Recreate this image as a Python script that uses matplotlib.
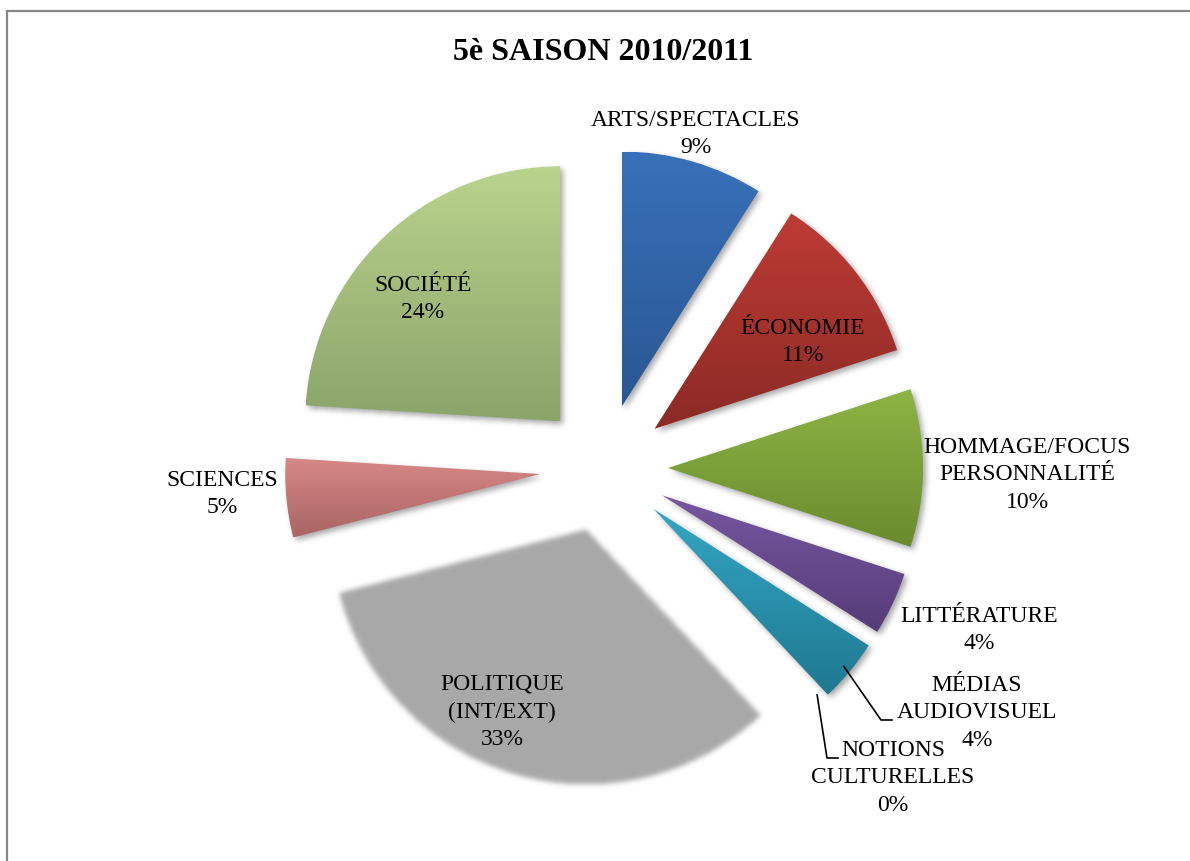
import numpy as np
import matplotlib
matplotlib.use('Agg')
import matplotlib.pyplot as plt
from matplotlib.colors import to_rgb

# répartition des sujets, saison 2010/2011 (%)
themes = ['ARTS/SPECTACLES', 'ÉCONOMIE', 'HOMMAGE/FOCUS\nPERSONNALITÉ', 'LITTÉRATURE',
          'MÉDIAS\nAUDIOVISUEL', 'NOTIONS\nCULTURELLES', 'POLITIQUE\n(INT/EXT)',
          'SCIENCES', 'SOCIÉTÉ']
parts = [9, 11, 10, 4, 4, 0, 33, 5, 24]

# dégradés haut -> bas de chaque part
grad_top = ['#3870b9', '#bf3b35', '#8db444', '#7757a1', '#33a6c4', '#33a6c4', '#a8a8a8', '#d88888', '#bad38d']
grad_bot = ['#2a5793', '#8b2a25', '#6a8b2e', '#563c78', '#1f7890', '#1f7890', '#a8a8a8', '#a86464', '#8ba46a']

# position des étiquettes (centre du bloc)
label_xy = [(696, 728), (803, 520), (1027, 387), (979, 232), (977, 149), (893, 84),
            (502, 150), (222, 368), (423, 563)]

W, H = 1190, 862
plt.rcParams['font.family'] = ['Liberation Serif', 'DejaVu Serif']

fig = plt.figure(figsize=(W / 100, H / 100), dpi=100)
ax = fig.add_axes([0, 0, 1, 1])

wedges, _ = ax.pie(parts, radius=255, center=(604, 393), explode=[64] * len(parts),
                   startangle=90, counterclock=False, frame=True,
                   colors=grad_top, wedgeprops=dict(linewidth=0))


def blur(a, s):
    r = int(3 * s)
    k = np.exp(-0.5 * (np.arange(-r, r + 1) / s) ** 2)
    k /= k.sum()
    a = np.apply_along_axis(lambda m: np.convolve(m, k, mode='same'), 0, a)
    a = np.apply_along_axis(lambda m: np.convolve(m, k, mode='same'), 1, a)
    return a


# grille de pixels pour l'ombre et le flou
gx, gy = np.meshgrid(np.arange(W) + 0.5, np.arange(H) + 0.5)
pts = np.column_stack([gx.ravel(), gy.ravel()])

shadow = np.zeros((H, W))
for i, w in enumerate(wedges):
    if parts[i] == 0:
        w.set_visible(False)
        continue
    mask = w.get_path().contains_points(pts).reshape(H, W).astype(float)
    w.set_facecolor('none')
    if themes[i].startswith('POLITIQUE'):
        # part grise aux bords flous
        m = blur(mask, 2.5)
        rgba = np.zeros((H, W, 4))
        rgba[..., :3] = to_rgb(grad_top[i])
        rgba[..., 3] = m
        ax.imshow(rgba, extent=(0, W, 0, H), origin='lower', aspect='auto',
                  zorder=2, interpolation='nearest')
        continue
    shadow = np.maximum(shadow, mask)
    x0, y0, x1, y1 = w.get_path().get_extents().extents
    t = np.linspace(0, 1, 256)[:, None, None]
    rgb = (1 - t) * np.array(to_rgb(grad_top[i])) + t * np.array(to_rgb(grad_bot[i]))
    im = ax.imshow(rgb, extent=(x0, x1, y0, y1), origin='upper', aspect='auto',
                   zorder=3, interpolation='bilinear')
    im.set_clip_path(w)

# ombre portée décalée vers le bas à droite
shadow = np.roll(np.roll(shadow, -3, axis=0), 3, axis=1)
shadow = blur(shadow, 3)
srgba = np.zeros((H, W, 4))
srgba[..., 3] = shadow * 0.35
ax.imshow(srgba, extent=(0, W, 0, H), origin='lower', aspect='auto', zorder=1,
          interpolation='nearest')

# étiquettes
for name, p, (lx, ly) in zip(themes, parts, label_xy):
    ax.text(lx, ly, f'{name}\n{p}%', ha='center', va='center', multialignment='center',
            fontsize=17, linespacing=1.4, color='black', zorder=5)

# traits de rappel pour les petites parts
for i, knee in [(4, (881, 141, 892)), (5, (827, 103, 838))]:
    w = wedges[i]
    a = np.deg2rad((w.theta1 + w.theta2) / 2)
    sx = w.center[0] + 0.97 * w.r * np.cos(a)
    sy = w.center[1] + 0.97 * w.r * np.sin(a)
    ax.plot([sx, knee[0], knee[2]], [sy, knee[1], knee[1]], color='black', lw=1.2, zorder=5)

ax.text(603, 862 - 52, '5è SAISON 2010/2011', ha='center', va='center',
        fontsize=23, fontweight='bold', zorder=5)

# cadre du graphique
ax.plot([7, 7, W], [0, H - 12, H - 12], color='#878787', lw=1.6, clip_on=False,
        solid_joinstyle='miter', zorder=6)

ax.set_xlim(0, W)
ax.set_ylim(0, H)
ax.set_aspect('auto')
ax.axis('off')

fig.savefig('out.png', dpi=100)
